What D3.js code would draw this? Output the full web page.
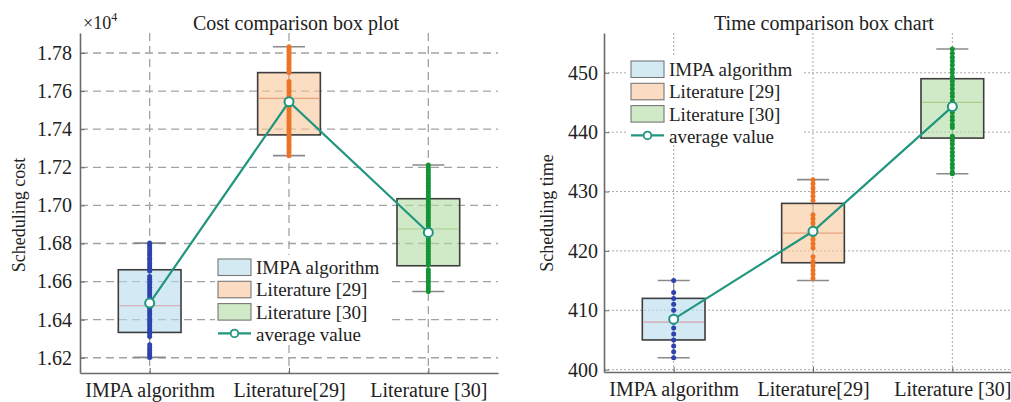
<!DOCTYPE html>
<html>
<head>
<meta charset="utf-8">
<script src="https://cdn.jsdelivr.net/npm/d3@7"></script>
<style>
  body { margin: 0; background: #fff; }
  svg text { font-family: "Liberation Serif", "Times New Roman", Times, "DejaVu Serif", serif !important; }
</style>
</head>
<body>
<div id="wrapper"></div>
<script>
// ---- data ----
const categories = ["IMPA algorithm", "Literature[29]", "Literature [30]"]
const legendLabels = ["IMPA algorithm", "Literature [29]", "Literature [30]", "average value"]

// cost panel (real units, axis shown as x10^4)
const costTicks = [16200, 16400, 16600, 16800, 17000, 17200, 17400, 17600, 17800]
const costMin = [16202, 17261, 16548]
const costQ1 = [16333, 17370, 16683]
const costMedian = [16473, 17562, 16876]
const costQ3 = [16662, 17697, 17035]
const costMax = [16802, 17833, 17212]
const costMean = [16487, 17544, 16858]
const costDotsIMPA = [16802, 16790, 16776, 16762, 16750, 16738, 16722, 16710, 16695, 16682, 16668, 16655,
  16627, 16612, 16598, 16585, 16570, 16556, 16543, 16530, 16515, 16500, 16488, 16474, 16460, 16446,
  16432, 16420, 16405, 16392, 16378, 16365, 16350, 16338, 16325, 16312, 16268, 16252, 16240, 16225, 16214, 16202]
const costDotsLit29 = [17833, 17820, 17806, 17792, 17780, 17766, 17752, 17738, 17724, 17712, 17698,
  17650, 17636, 17622, 17608, 17595, 17580, 17566, 17553, 17540, 17526, 17512, 17500, 17486, 17472,
  17458, 17444, 17430, 17418, 17404, 17390, 17376, 17362, 17348, 17334, 17320, 17306, 17292, 17278, 17261]
const costDotsLit30 = [17212, 17198, 17185, 17170, 17156, 17142, 17128, 17115, 17100, 17087, 17073, 17060,
  17045, 17032, 17018, 17004, 16990, 16977, 16963, 16950, 16936, 16922, 16908, 16895, 16880, 16867,
  16853, 16840, 16826, 16812, 16798, 16785, 16771, 16758, 16744, 16730, 16716, 16702, 16688,
  16662, 16648, 16634, 16620, 16606, 16592, 16578, 16563, 16548]

// time panel
const timeTicks = [400, 410, 420, 430, 440, 450]
const timeMin = [402, 415, 433]
const timeQ1 = [405, 418, 439]
const timeMedian = [408, 423, 445]
const timeQ3 = [412, 428, 449]
const timeMax = [415, 432, 454]
const timeMean = [408.5, 423.3, 444.3]
const timeDotsIMPA = [402, 403, 404, 405, 406, 407, 408, 409, 410, 411, 412, 413, 415]
const timeDotsLit29 = [415.4, 416.1, 416.8, 417.5, 418.2, 419, 420.5, 421.2, 421.9, 422.6, 423.3, 424,
  424.7, 425.4, 426.1, 428.5, 429.2, 429.9, 430.6, 431.3, 432]
const timeDotsLit30 = [454, 453.3, 452.6, 452, 451.3, 450.6, 450, 449.3, 448.6, 448, 447.3, 446.6, 446,
  445.3, 444.6, 444, 443.3, 442.6, 442, 441.3, 440.8, 439.3, 438.6, 438, 437.3, 436.6, 436, 435.3,
  434.6, 434, 433.3, 433]

// ---- styles ----
const serif = '"Liberation Serif", "Times New Roman", Times, serif'
const boxFill = ["#b6dcec", "#f8c69a", "#b1dca4"]
const legendFill = ["#d3eaf3", "#fbdcc2", "#d0e9c6"]
const medianColor = ["#d6a2ac", "#e7a37c", "#a8cf8c"]
const dotColor = ["#2d43b0", "#ec7424", "#149436"]
const teal = "#21967f"

const svg = d3.select("#wrapper")
  .append("svg")
  .attr("width", 1011)
  .attr("height", 402)
  .style("background", "#fff")

function drawPanel(p) {
  const xScaler = d3.scaleLinear().domain([0.5, 3.5]).range([p.left, p.right])
  const yScaler = d3.scaleLinear().domain(p.yDomain).range([p.bottom, p.top])
  const idx = [0, 1, 2]
  const bounds = svg.append("g")

  // grid
  bounds.append("g").selectAll("line")
    .data(p.ticks)
    .join("line")
    .attr("x1", p.left).attr("x2", p.right)
    .attr("y1", d => yScaler(d)).attr("y2", d => yScaler(d))
    .attr("stroke", p.gridColor)
    .attr("stroke-width", p.gridWidth)
    .attr("stroke-dasharray", p.gridDash)
  bounds.append("g").selectAll("line")
    .data(idx)
    .join("line")
    .attr("x1", d => xScaler(d + 1)).attr("x2", d => xScaler(d + 1))
    .attr("y1", p.top).attr("y2", p.bottom)
    .attr("stroke", p.gridColor)
    .attr("stroke-width", p.gridWidth)
    .attr("stroke-dasharray", p.gridDash)

  const boxW = xScaler(0.45) - xScaler(0)
  const capW = xScaler(0.23) - xScaler(0)

  const groups = bounds.append("g").selectAll("g")
    .data(idx)
    .join("g")

  groups.append("line")
    .attr("x1", d => xScaler(d + 1)).attr("x2", d => xScaler(d + 1))
    .attr("y1", d => yScaler(p.min[d])).attr("y2", d => yScaler(p.max[d]))
    .attr("stroke", "#888").attr("stroke-width", 1.2)
  groups.selectAll(".cap")
    .data(d => [[d, p.min[d]], [d, p.max[d]]])
    .join("line")
    .attr("class", "cap")
    .attr("x1", d => xScaler(d[0] + 1) - capW / 2).attr("x2", d => xScaler(d[0] + 1) + capW / 2)
    .attr("y1", d => yScaler(d[1])).attr("y2", d => yScaler(d[1]))
    .attr("stroke", "#8a8a8a").attr("stroke-width", 1.6)

  groups.append("rect")
    .attr("x", d => xScaler(d + 1) - boxW / 2)
    .attr("y", d => yScaler(p.q3[d]))
    .attr("width", boxW)
    .attr("height", d => yScaler(p.q1[d]) - yScaler(p.q3[d]))
    .attr("fill", d => boxFill[d])
    .attr("fill-opacity", 0.6)
    .attr("stroke", "#3d3d3d")
    .attr("stroke-width", 1.6)

  groups.append("line")
    .attr("x1", d => xScaler(d + 1) - boxW / 2 + 1).attr("x2", d => xScaler(d + 1) + boxW / 2 - 1)
    .attr("y1", d => yScaler(p.median[d])).attr("y2", d => yScaler(p.median[d]))
    .attr("stroke", d => medianColor[d]).attr("stroke-width", 1.2)

  groups.selectAll(".dot")
    .data(d => p.dots[d].map(v => [d, v]))
    .join("circle")
    .attr("class", "dot")
    .attr("cx", d => xScaler(d[0] + 1))
    .attr("cy", d => yScaler(d[1]))
    .attr("r", 2.5)
    .attr("fill", d => dotColor[d[0]])

  // average line
  const lineGen = d3.line()
    .x(d => xScaler(d + 1))
    .y(d => yScaler(p.mean[d]))
  bounds.append("path")
    .attr("d", lineGen(idx))
    .attr("fill", "none")
    .attr("stroke", teal)
    .attr("stroke-width", 2.2)
  bounds.append("g").selectAll("circle")
    .data(idx)
    .join("circle")
    .attr("cx", d => xScaler(d + 1))
    .attr("cy", d => yScaler(p.mean[d]))
    .attr("r", 4.5)
    .attr("fill", "#fff")
    .attr("stroke", teal)
    .attr("stroke-width", 2)

  // axes
  const xAxisGen = d3.axisBottom(xScaler)
    .tickValues([1, 2, 3])
    .tickFormat((d, i) => categories[i])
    .tickSizeInner(-5)
    .tickSizeOuter(0)
    .tickPadding(10)
  bounds.append("g")
    .attr("transform", `translate(0,${p.bottom})`)
    .call(xAxisGen)
    .attr("font-family", serif)
    .attr("font-size", 20)
    .call(a => a.select(".domain").attr("stroke", "#6a6a6a").attr("stroke-width", 1.6))
    .call(a => a.selectAll(".tick line").attr("stroke", "#6a6a6a"))
    .call(a => a.selectAll("text").attr("fill", "#222"))

  const yAxisGen = d3.axisLeft(yScaler)
    .tickValues(p.ticks)
    .tickFormat(p.tickFormat)
    .tickSizeInner(-5)
    .tickSizeOuter(0)
    .tickPadding(p.yPad)
  bounds.append("g")
    .attr("transform", `translate(${p.left},0)`)
    .call(yAxisGen)
    .attr("font-family", serif)
    .attr("font-size", 20)
    .call(a => a.select(".domain").attr("stroke", "#6a6a6a").attr("stroke-width", 1.6))
    .call(a => a.selectAll(".tick line").attr("stroke", "#6a6a6a"))
    .call(a => a.selectAll("text").attr("fill", "#222"))

  // titles
  bounds.append("text")
    .attr("x", p.titleX).attr("y", 30)
    .attr("text-anchor", "middle")
    .attr("font-size", 20).attr("fill", "#222")
    .text(p.title)
  bounds.append("text")
    .attr("transform", `translate(${p.yLabelX},${p.yLabelY}) rotate(-90)`)
    .attr("text-anchor", "middle")
    .attr("font-size", 18).attr("fill", "#222")
    .text(p.yLabel)

  // legend
  const lg = bounds.append("g")
    .attr("transform", `translate(${p.legendX},${p.legendY})`)
  lg.append("rect")
    .attr("x", -3).attr("y", -4)
    .attr("width", p.legendW).attr("height", 86)
    .attr("fill", "#fff")
  const rows = lg.selectAll(".row")
    .data(legendLabels)
    .join("g")
    .attr("class", "row")
    .attr("transform", (d, i) => `translate(0,${i * 22.3})`)
  rows.filter((d, i) => i < 3)
    .append("rect")
    .attr("width", 33).attr("height", 16.5)
    .attr("fill", (d, i) => legendFill[i])
    .attr("stroke", "#777").attr("stroke-width", 1.1)
  const avgRow = rows.filter((d, i) => i === 3)
  avgRow.append("line")
    .attr("x1", 0).attr("x2", 33).attr("y1", 7.5).attr("y2", 7.5)
    .attr("stroke", teal).attr("stroke-width", 2.2)
  avgRow.append("circle")
    .attr("cx", 16.5).attr("cy", 7.5).attr("r", 3.8)
    .attr("fill", "#fff").attr("stroke", teal).attr("stroke-width", 1.8)
  rows.append("text")
    .attr("x", 38).attr("y", 15)
    .attr("font-size", 19).attr("fill", "#222")
    .text(d => d)

  return bounds
}

const costPanel = drawPanel({
  left: 80, right: 498, top: 33, bottom: 373,
  yDomain: [16120, 17905], ticks: costTicks,
  tickFormat: d => (d / 1e4).toFixed(2), yPad: 8,
  min: costMin, q1: costQ1, median: costMedian, q3: costQ3, max: costMax, mean: costMean,
  dots: [costDotsIMPA, costDotsLit29, costDotsLit30],
  gridColor: "#a3a3a3", gridWidth: 1.3, gridDash: "8,5",
  title: "Cost comparison box plot", titleX: 296,
  yLabel: "Scheduling cost", yLabelX: 25, yLabelY: 215,
  legendX: 218, legendY: 259, legendW: 172
})

// x10^4 label
const expLabel = costPanel.append("text")
  .attr("x", 83).attr("y", 29)
  .attr("font-size", 18).attr("fill", "#222")
expLabel.append("tspan").text("×10")
expLabel.append("tspan").attr("dy", -8).attr("font-size", 12).text("4")

drawPanel({
  left: 604, right: 1022, top: 33, bottom: 372,
  yDomain: [399.6, 456.7], ticks: timeTicks,
  tickFormat: d => d, yPad: 6,
  min: timeMin, q1: timeQ1, median: timeMedian, q3: timeQ3, max: timeMax, mean: timeMean,
  dots: [timeDotsIMPA, timeDotsLit29, timeDotsLit30],
  gridColor: "#ababab", gridWidth: 1, gridDash: "2,2",
  title: "Time comparison box chart", titleX: 824,
  yLabel: "Scheduling time", yLabelX: 553, yLabelY: 213,
  legendX: 631, legendY: 61, legendW: 176
})
</script>
</body>
</html>
